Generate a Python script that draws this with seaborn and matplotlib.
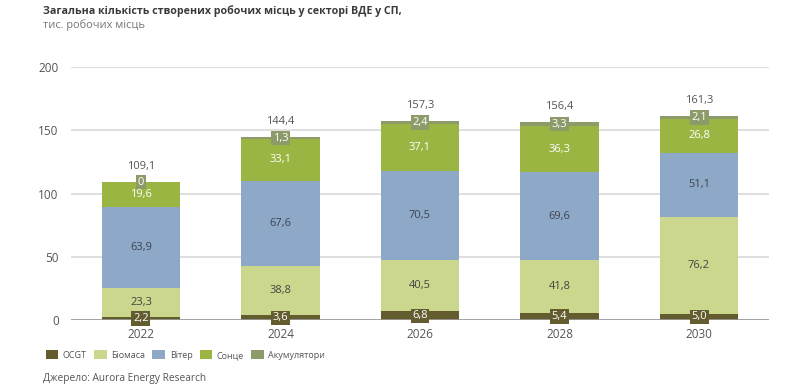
import numpy as np
import pandas as pd
import matplotlib
matplotlib.use("Agg")
import matplotlib.pyplot as plt
import seaborn as sns
from matplotlib.patches import Patch

# Data (thousand jobs)
years = ["2022", "2024", "2026", "2028", "2030"]
ocgt = [2.2, 3.6, 6.8, 5.4, 5.0]
biomass = [23.3, 38.8, 40.5, 41.8, 76.2]
wind = [63.9, 67.6, 70.5, 69.6, 51.1]
solar = [19.6, 33.1, 37.1, 36.3, 26.8]
storage = [0.0, 1.3, 2.4, 3.3, 2.1]
totals = [109.1, 144.4, 157.3, 156.4, 161.3]

series_names = ["OCGT", "Біомаса", "Вітер", "Сонце", "Акумулятори"]
series_vals = [ocgt, biomass, wind, solar, storage]
colors = ["#625c2f", "#cbd78c", "#8ea9c7", "#9bb543", "#8c9b69"]
text_colors = ["white", "#444444", "#3d4450", "white", "white"]
boxed = [True, False, False, False, True]

sns.set_style("white")
plt.rcParams["font.family"] = ["Open Sans", "DejaVu Sans"]

fig = plt.figure(figsize=(8, 3.91), dpi=100)
ax = fig.add_axes([0.089, 0.1816, 0.872, 0.647])

# cumulative stacks, drawn from the top down so lower segments cover upper ones
df = pd.DataFrame({"year": years})
cum = np.zeros(len(years))
cums = []
for vals in series_vals:
    cum = cum + np.array(vals)
    cums.append(cum.copy())

for i in reversed(range(len(series_vals))):
    df["v"] = cums[i]
    sns.barplot(data=df, x="year", y="v", color=colors[i], width=0.56,
                saturation=1, linewidth=0, ax=ax, zorder=3)

ax.set_ylim(0, 200)
ax.set_xlim(-0.5, 4.5)
ax.set_yticks([0, 50, 100, 150, 200])
ax.yaxis.grid(True, color="#d9d9d9", linewidth=1.2, zorder=0)
ax.axhline(0, color="#9a9a9a", linewidth=1.2, zorder=4)
ax.set_xlabel("")
ax.set_ylabel("")
for s in ax.spines.values():
    s.set_visible(False)
ax.tick_params(axis="both", length=0, labelsize=8.5, labelcolor="#555555")
ax.tick_params(axis="y", pad=9)
ax.tick_params(axis="x", pad=6)

# segment labels
for i, vals in enumerate(series_vals):
    for j, v in enumerate(vals):
        mid = cums[i][j] - v / 2
        label = f"{v:.1f}".replace(".", ",")
        if v == 0:
            label = "0"
        if boxed[i]:
            ax.text(j, mid, label, ha="center", va="center", fontsize=8,
                    color="white", zorder=6,
                    bbox=dict(boxstyle="square,pad=0.15", fc=colors[i], ec="none"))
        else:
            ax.text(j, mid, label, ha="center", va="center", fontsize=8,
                    color=text_colors[i], zorder=6)

# totals
for j, t in enumerate(totals):
    ax.text(j, cums[-1][j] + 8, f"{t:.1f}".replace(".", ","), ha="center",
            va="bottom", fontsize=8, color="#555555", zorder=6)

fig.text(0.054, 0.988, "Загальна кількість створених робочих місць у секторі ВДЕ у СП,",
         fontsize=7.7, fontweight="bold", color="#3a3a3a", va="top")
fig.text(0.054, 0.952, "тис. робочих місць", fontsize=7.9, color="#777777", va="top")

handles = [Patch(facecolor=c, edgecolor="none") for c in colors]
fig.legend(handles, series_names, loc="center left", bbox_to_anchor=(0.047, 0.092),
           ncol=5, frameon=False, fontsize=6.5, handlelength=1.4, handleheight=1.2,
           handletextpad=0.5, columnspacing=0.8, labelcolor="#555555")

fig.text(0.054, 0.032, "Джерело: Aurora Energy Research", fontsize=7.3,
         color="#555555", va="center")

fig.savefig("out.png", dpi=100)
